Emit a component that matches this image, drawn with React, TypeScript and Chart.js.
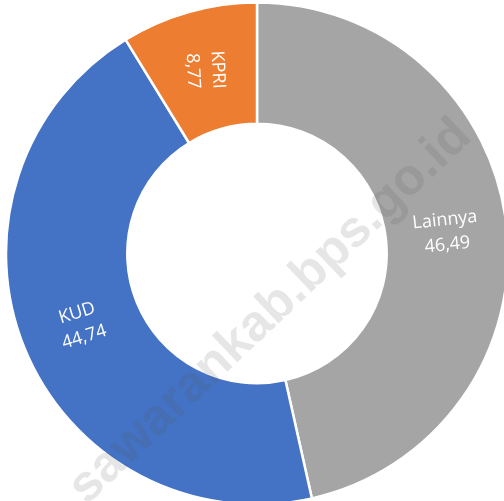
import React, { useEffect, useRef } from "react";
import { Chart, registerables } from "chart.js";

Chart.register(...registerables);

const categories = ["Lainnya", "KUD", "KPRI"];
const values = [46.49, 44.74, 8.77];
const colors = ["#A5A5A5", "#4472C4", "#ED7D31"];
const labelRotationDeg = [-6, -17, 87];
const watermark = "sawarankab.bps.go.id";

const labelPlugin = {
  id: "sliceLabels",
  afterDatasetsDraw(chart: any) {
    const ctx = chart.ctx;
    const meta = chart.getDatasetMeta(0);
    ctx.save();
    ctx.fillStyle = "#FFFFFF";
    ctx.font = "18px 'Open Sans'";
    ctx.textAlign = "center";
    ctx.textBaseline = "middle";
    const lh = 25;
    meta.data.forEach((arc: any, i: number) => {
      const p = arc.getCenterPoint();
      const r = (labelRotationDeg[i] * Math.PI) / 180;
      ctx.save();
      ctx.translate(p.x, p.y);
      ctx.rotate(r);
      ctx.fillText(categories[i], 0, -lh / 2);
      ctx.fillText(values[i].toFixed(2).replace(".", ","), 0, lh / 2);
      ctx.restore();
    });
    ctx.restore();
  },
  afterDraw(chart: any) {
    const ctx = chart.ctx;
    ctx.save();
    ctx.translate(280, 322);
    ctx.rotate((-43.5 * Math.PI) / 180);
    ctx.font = "bold 51px 'Liberation Sans', Arial, sans-serif";
    ctx.textAlign = "center";
    ctx.textBaseline = "alphabetic";
    ctx.fillStyle = "rgba(90,90,90,0.15)";
    ctx.fillText(watermark, 0, 0);
    ctx.restore();
  },
};

export default function App() {
  const ref = useRef<HTMLCanvasElement>(null);
  useEffect(() => {
    document.body.style.margin = "0";
    const chart = new Chart(ref.current as HTMLCanvasElement, {
      type: "doughnut",
      data: {
        labels: categories,
        datasets: [
          {
            data: values,
            backgroundColor: colors,
            borderColor: "#FFFFFF",
            borderWidth: 2.5,
            clip: false,
          } as any,
        ],
      },
      options: {
        responsive: false,
        animation: false,
        radius: 251,
        cutout: 127,
        layout: { padding: { left: 10, top: 6 } },
        plugins: {
          legend: { display: false },
          tooltip: { enabled: false },
        },
      } as any,
      plugins: [labelPlugin],
    });
    return () => chart.destroy();
  }, []);
  return (
    <div style={{ position: "fixed", left: 0, top: 0, width: 504, height: 501, background: "#fff" }}>
      <canvas ref={ref} width={504} height={501} style={{ width: 504, height: 501, display: "block" }} />
    </div>
  );
}
